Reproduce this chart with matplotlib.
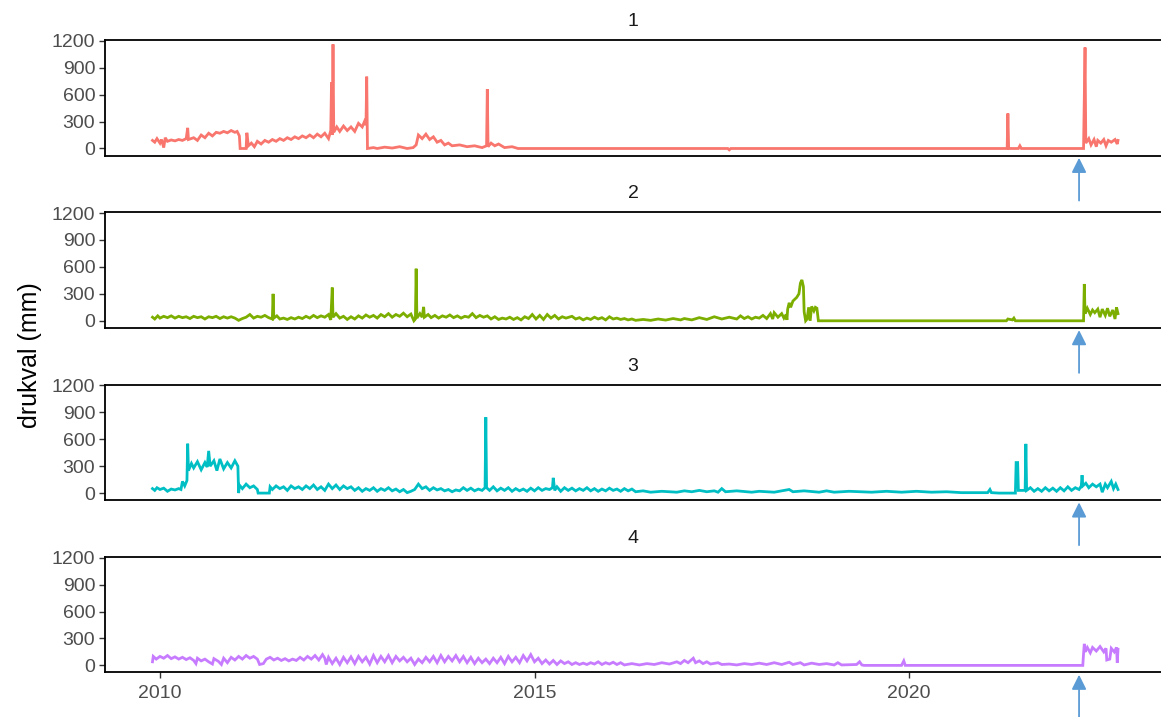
import matplotlib
matplotlib.use("Agg")
import matplotlib.pyplot as plt

plt.rcParams['font.family'] = ['Liberation Sans', 'DejaVu Sans']

# ---- data (decimal years, drukval in mm) ----

t1 = [2009.90, 2009.93, 2009.96, 2010.00, 2010.02, 2010.05, 2010.07, 2010.10, 2010.15, 2010.20,
      2010.25, 2010.30, 2010.35, 2010.37, 2010.38, 2010.45, 2010.50, 2010.55, 2010.60, 2010.65,
      2010.70, 2010.75, 2010.80, 2010.85, 2010.90, 2010.95, 2011.00, 2011.03, 2011.06, 2011.07,
      2011.15, 2011.16, 2011.18, 2011.22, 2011.26, 2011.30, 2011.35, 2011.40, 2011.45, 2011.50,
      2011.55, 2011.60, 2011.65, 2011.70, 2011.75, 2011.80, 2011.85, 2011.90, 2011.95, 2012.00,
      2012.05, 2012.10, 2012.15, 2012.20, 2012.25, 2012.28, 2012.29, 2012.30, 2012.31, 2012.32,
      2012.36, 2012.40, 2012.45, 2012.50, 2012.55, 2012.60, 2012.65, 2012.70, 2012.73, 2012.75,
      2012.76, 2012.77, 2012.85, 2012.90, 2013.00, 2013.10, 2013.20, 2013.30, 2013.38, 2013.42,
      2013.45, 2013.50, 2013.55, 2013.60, 2013.65, 2013.70, 2013.75, 2013.80, 2013.85, 2013.90,
      2014.00, 2014.10, 2014.20, 2014.30, 2014.36, 2014.37, 2014.38, 2014.42, 2014.47, 2014.52,
      2014.60, 2014.70, 2014.78, 2017.58, 2017.60, 2017.62, 2021.31, 2021.32, 2021.33, 2021.46,
      2021.48, 2021.50, 2022.33, 2022.35, 2022.36, 2022.40, 2022.43, 2022.47, 2022.50, 2022.52,
      2022.56, 2022.60, 2022.63, 2022.66, 2022.70, 2022.75, 2022.78, 2022.79]
v1 = [90, 70, 110, 60, 100, 10, 120, 80, 95, 85,
      100, 90, 110, 230, 100, 120, 90, 150, 120, 170,
      140, 180, 170, 190, 175, 200, 180, 190, 140, 0,
      0, 175, 30, 60, 20, 80, 50, 90, 70, 100,
      80, 110, 90, 120, 100, 130, 110, 140, 120, 150,
      120, 160, 130, 170, 110, 200, 735, 150, 1160, 180,
      240, 190, 250, 200, 240, 190, 280, 240, 300, 260,
      800, 0, 10, 0, 15, 5, 20, 0, 10, 40,
      150, 110, 160, 100, 130, 70, 90, 40, 60, 30,
      40, 20, 30, 10, 30, 660, 20, 60, 30, 50,
      10, 20, 0, 0, -15, 0, 0, 390, 0, 0,
      30, 0, 0, 1125, 60, 110, 40, 100, 20, 90,
      60, 100, 30, 90, 70, 100, 50, 90]

t2 = [2009.90, 2009.93, 2009.97, 2010.00, 2010.05, 2010.10, 2010.15, 2010.20, 2010.25, 2010.30,
      2010.35, 2010.40, 2010.45, 2010.50, 2010.55, 2010.60, 2010.65, 2010.70, 2010.75, 2010.80,
      2010.85, 2010.90, 2010.95, 2011.00, 2011.05, 2011.10, 2011.15, 2011.20, 2011.25, 2011.30,
      2011.35, 2011.40, 2011.45, 2011.50, 2011.51, 2011.52, 2011.56, 2011.60, 2011.65, 2011.70,
      2011.75, 2011.80, 2011.85, 2011.90, 2011.95, 2012.00, 2012.05, 2012.10, 2012.15, 2012.20,
      2012.25, 2012.28, 2012.30, 2012.31, 2012.35, 2012.40, 2012.45, 2012.50, 2012.55, 2012.60,
      2012.65, 2012.70, 2012.75, 2012.80, 2012.85, 2012.90, 2012.95, 2013.00, 2013.05, 2013.10,
      2013.15, 2013.20, 2013.25, 2013.30, 2013.35, 2013.39, 2013.41, 2013.42, 2013.43, 2013.47,
      2013.50, 2013.52, 2013.53, 2013.58, 2013.62, 2013.67, 2013.72, 2013.77, 2013.82, 2013.87,
      2013.92, 2013.97, 2014.02, 2014.07, 2014.12, 2014.17, 2014.22, 2014.27, 2014.32, 2014.37,
      2014.42, 2014.47, 2014.52, 2014.57, 2014.62, 2014.67, 2014.72, 2014.77, 2014.82, 2014.87,
      2014.92, 2014.97, 2015.02, 2015.07, 2015.12, 2015.17, 2015.22, 2015.27, 2015.32, 2015.37,
      2015.42, 2015.50, 2015.55, 2015.60, 2015.65, 2015.70, 2015.75, 2015.80, 2015.85, 2015.90,
      2015.95, 2016.00, 2016.05, 2016.10, 2016.15, 2016.20, 2016.25, 2016.30, 2016.35, 2016.45,
      2016.55, 2016.65, 2016.75, 2016.85, 2016.95, 2017.00, 2017.10, 2017.20, 2017.30, 2017.40,
      2017.50, 2017.60, 2017.70, 2017.75, 2017.80, 2017.85, 2017.90, 2017.95, 2018.00, 2018.05,
      2018.10, 2018.15, 2018.18, 2018.20, 2018.25, 2018.30, 2018.33, 2018.36, 2018.37, 2018.38,
      2018.40, 2018.42, 2018.45, 2018.50, 2018.53, 2018.55, 2018.57, 2018.59, 2018.60, 2018.62,
      2018.64, 2018.66, 2018.68, 2018.70, 2018.73, 2018.75, 2018.77, 2018.79, 2021.30, 2021.32,
      2021.38, 2021.40, 2021.42, 2022.33, 2022.34, 2022.35, 2022.38, 2022.42, 2022.45, 2022.48,
      2022.52, 2022.55, 2022.58, 2022.62, 2022.65, 2022.68, 2022.72, 2022.75, 2022.77, 2022.79]
v2 = [40, 20, 55, 30, 50, 35, 55, 30, 50, 35,
      45, 25, 50, 35, 45, 20, 45, 35, 50, 25,
      45, 30, 45, 30, 5, 25, 40, 70, 30, 50,
      40, 60, 35, 20, 300, 30, 55, 20, 30, 15,
      35, 20, 40, 25, 50, 30, 60, 35, 55, 40,
      70, 10, 370, 40, 80, 30, 50, 15, 45, 20,
      55, 30, 65, 40, 60, 30, 70, 45, 80, 40,
      70, 50, 85, 45, 75, 0, 20, 580, 30, 80,
      40, 155, 40, 70, 35, 60, 30, 55, 40, 65,
      35, 55, 30, 50, 40, 80, 35, 60, 40, 55,
      20, 45, 15, 30, 20, 40, 15, 35, 10, 45,
      25, 70, 20, 60, 15, 70, 30, 60, 20, 45,
      30, 50, 20, 35, 10, 30, 15, 40, 20, 35,
      10, 45, 20, 30, 15, 25, 10, 20, 5, 15,
      5, 20, 8, 25, 10, 25, 10, 35, 15, 45,
      20, 40, 20, 55, 25, 45, 20, 40, 30, 60,
      25, 80, 20, 90, 40, 80, 30, 70, 10, 130,
      200, 150, 220, 260, 300, 420, 455, 380, 100, 0,
      20, 150, 0, 160, 110, 150, 140, 0, 0, 20,
      10, 30, 0, 0, 410, 80, 140, 70, 120, 90,
      130, 40, 130, 60, 140, 50, 120, 20, 150, 80]

t3 = [2009.90, 2009.93, 2009.96, 2010.00, 2010.05, 2010.10, 2010.15, 2010.20, 2010.25, 2010.28,
      2010.30, 2010.33, 2010.36, 2010.37, 2010.38, 2010.42, 2010.45, 2010.50, 2010.55, 2010.60,
      2010.63, 2010.65, 2010.67, 2010.72, 2010.76, 2010.80, 2010.85, 2010.90, 2010.95, 2011.00,
      2011.04, 2011.05, 2011.06, 2011.10, 2011.15, 2011.20, 2011.25, 2011.30, 2011.31, 2011.46,
      2011.47, 2011.50, 2011.55, 2011.60, 2011.65, 2011.70, 2011.75, 2011.80, 2011.85, 2011.90,
      2011.95, 2012.00, 2012.05, 2012.10, 2012.15, 2012.20, 2012.25, 2012.30, 2012.35, 2012.40,
      2012.45, 2012.50, 2012.55, 2012.60, 2012.65, 2012.70, 2012.75, 2012.80, 2012.85, 2012.90,
      2012.95, 2013.00, 2013.05, 2013.10, 2013.15, 2013.20, 2013.25, 2013.30, 2013.35, 2013.40,
      2013.45, 2013.50, 2013.55, 2013.60, 2013.65, 2013.70, 2013.75, 2013.80, 2013.85, 2013.90,
      2013.95, 2014.00, 2014.05, 2014.10, 2014.15, 2014.20, 2014.25, 2014.30, 2014.34, 2014.35,
      2014.36, 2014.40, 2014.45, 2014.50, 2014.55, 2014.60, 2014.65, 2014.70, 2014.75, 2014.80,
      2014.85, 2014.90, 2014.95, 2015.00, 2015.05, 2015.10, 2015.15, 2015.20, 2015.24, 2015.25,
      2015.27, 2015.30, 2015.35, 2015.40, 2015.45, 2015.50, 2015.55, 2015.60, 2015.65, 2015.70,
      2015.75, 2015.80, 2015.85, 2015.90, 2015.95, 2016.00, 2016.05, 2016.10, 2016.15, 2016.20,
      2016.25, 2016.30, 2016.35, 2016.45, 2016.55, 2016.70, 2016.90, 2017.00, 2017.10, 2017.20,
      2017.30, 2017.40, 2017.45, 2017.50, 2017.55, 2017.70, 2017.90, 2018.00, 2018.20, 2018.40,
      2018.45, 2018.60, 2018.80, 2018.90, 2019.00, 2019.20, 2019.50, 2019.70, 2019.90, 2020.10,
      2020.30, 2020.50, 2020.70, 2020.90, 2021.05, 2021.08, 2021.10, 2021.20, 2021.42, 2021.43,
      2021.45, 2021.46, 2021.55, 2021.56, 2021.57, 2021.62, 2021.67, 2021.72, 2021.77, 2021.82,
      2021.87, 2021.92, 2021.97, 2022.02, 2022.07, 2022.12, 2022.17, 2022.22, 2022.27, 2022.30,
      2022.31, 2022.32, 2022.36, 2022.40, 2022.45, 2022.50, 2022.55, 2022.58, 2022.62, 2022.65,
      2022.70, 2022.73, 2022.76, 2022.79]
v3 = [50, 30, 60, 40, 55, 20, 45, 35, 50, 40,
      130, 80, 140, 550, 250, 330, 280, 350, 260, 340,
      290, 470, 300, 360, 250, 380, 270, 340, 280, 360,
      300, 0, 90, 50, 100, 60, 80, 40, 0, 0,
      70, 40, 80, 50, 70, 30, 80, 50, 70, 40,
      80, 50, 90, 40, 70, 30, 100, 50, 90, 40,
      80, 50, 70, 30, 60, 20, 50, 30, 60, 20,
      50, 30, 60, 25, 45, 15, 40, 5, 20, 40,
      100, 50, 70, 30, 60, 35, 50, 25, 40, 15,
      35, 25, 60, 30, 55, 25, 45, 30, 60, 845,
      60, 30, 70, 25, 55, 30, 60, 20, 50, 25,
      45, 20, 55, 25, 60, 30, 50, 40, 60, 170,
      30, 70, 20, 60, 30, 55, 25, 50, 30, 60,
      25, 50, 20, 45, 25, 55, 30, 45, 20, 50,
      25, 45, 15, 25, 10, 20, 10, 25, 15, 30,
      15, 25, 10, 50, 15, 25, 10, 20, 10, 40,
      15, 25, 10, 25, 10, 20, 10, 20, 10, 20,
      10, 15, 5, 5, 5, 40, 5, 0, 0, 340,
      340, 30, 30, 548, 30, 60, 20, 50, 20, 60,
      25, 55, 20, 60, 25, 70, 30, 60, 40, 80,
      200, 80, 110, 60, 100, 70, 100, 10, 100, 60,
      130, 50, 100, 40]

t4 = [2009.90, 2009.91, 2009.95, 2010.00, 2010.05, 2010.10, 2010.15, 2010.20, 2010.25, 2010.30,
      2010.35, 2010.40, 2010.45, 2010.48, 2010.50, 2010.55, 2010.60, 2010.65, 2010.70, 2010.72,
      2010.78, 2010.82, 2010.85, 2010.90, 2010.95, 2011.00, 2011.05, 2011.10, 2011.15, 2011.20,
      2011.25, 2011.30, 2011.33, 2011.38, 2011.42, 2011.47, 2011.52, 2011.57, 2011.62, 2011.67,
      2011.72, 2011.77, 2011.82, 2011.87, 2011.92, 2011.97, 2012.02, 2012.07, 2012.12, 2012.17,
      2012.20, 2012.22, 2012.25, 2012.30, 2012.35, 2012.40, 2012.45, 2012.50, 2012.55, 2012.60,
      2012.65, 2012.70, 2012.75, 2012.80, 2012.85, 2012.90, 2012.95, 2013.00, 2013.05, 2013.10,
      2013.15, 2013.20, 2013.25, 2013.30, 2013.35, 2013.40, 2013.45, 2013.50, 2013.55, 2013.60,
      2013.65, 2013.70, 2013.75, 2013.80, 2013.85, 2013.90, 2013.95, 2014.00, 2014.05, 2014.10,
      2014.15, 2014.20, 2014.25, 2014.30, 2014.35, 2014.40, 2014.45, 2014.50, 2014.55, 2014.60,
      2014.65, 2014.70, 2014.75, 2014.80, 2014.85, 2014.90, 2014.95, 2015.00, 2015.05, 2015.10,
      2015.15, 2015.20, 2015.25, 2015.30, 2015.35, 2015.40, 2015.45, 2015.50, 2015.55, 2015.60,
      2015.65, 2015.70, 2015.75, 2015.80, 2015.85, 2015.90, 2015.95, 2016.00, 2016.05, 2016.10,
      2016.15, 2016.20, 2016.30, 2016.40, 2016.50, 2016.60, 2016.70, 2016.80, 2016.90, 2016.95,
      2017.00, 2017.05, 2017.12, 2017.15, 2017.20, 2017.25, 2017.30, 2017.35, 2017.45, 2017.50,
      2017.60, 2017.70, 2017.80, 2017.90, 2018.00, 2018.10, 2018.20, 2018.30, 2018.40, 2018.45,
      2018.55, 2018.60, 2018.70, 2018.80, 2018.90, 2019.00, 2019.05, 2019.10, 2019.30, 2019.34,
      2019.37, 2019.40, 2019.90, 2019.93, 2019.95, 2022.32, 2022.33, 2022.34, 2022.35, 2022.38,
      2022.42, 2022.45, 2022.50, 2022.55, 2022.60, 2022.63, 2022.64, 2022.68, 2022.70, 2022.74,
      2022.77, 2022.78, 2022.79]
v4 = [40, 100, 70, 100, 80, 110, 75, 95, 70, 90,
      65, 85, 55, 20, 80, 50, 70, 40, 15, 75,
      45, 10, 80, 30, 90, 60, 100, 70, 110, 80,
      100, 70, 10, 20, 70, 90, 60, 80, 55, 75,
      50, 70, 55, 90, 60, 100, 70, 110, 60, 120,
      80, 10, 90, 20, 80, 10, 90, 30, 95, 20,
      100, 40, 90, 15, 110, 30, 100, 40, 110, 30,
      100, 50, 90, 40, 80, 10, 70, 30, 90, 40,
      100, 30, 110, 40, 100, 50, 110, 40, 100, 30,
      90, 20, 80, 30, 70, 20, 80, 30, 90, 20,
      100, 40, 90, 30, 110, 50, 120, 40, 80, 20,
      60, 15, 55, 10, 50, 20, 40, 10, 30, 10,
      25, 10, 30, 15, 40, 10, 30, 15, 35, 10,
      30, 5, 20, 5, 20, 10, 30, 15, 40, 20,
      55, 30, 80, 30, 50, 20, 40, 15, 30, 10,
      15, 5, 20, 10, 25, 10, 30, 10, 35, 10,
      30, 5, 25, 10, 20, 5, 30, 5, 10, 40,
      5, 0, 0, 50, 0, 0, 130, 240, 150, 200,
      140, 200, 160, 210, 150, 190, 60, 70, 190, 150,
      200, 30, 180]

series = [("1", t1, v1, "#F8766D"), ("2", t2, v2, "#7CAE00"),
          ("3", t3, v3, "#00BFC4"), ("4", t4, v4, "#C77CFF")]
yticks = [0, 300, 600, 900, 1200]
xticks = [2010, 2015, 2020]
arrow_year = 2022.27

# ---- figure ----
W, H = 1161, 717
fig = plt.figure(figsize=(W / 100, H / 100), dpi=100)

left_px = 105
top0 = 40
step = 172.3
ph = 115.5

for i, (name, t, v, col) in enumerate(series):
    top = top0 + i * step
    ax = fig.add_axes([left_px / W, 1 - (top + ph) / H, (W - left_px) / W, ph / H])
    ax.plot(t, v, color=col, lw=2.0, solid_joinstyle='miter')
    ax.set_xlim(2009.266, 2023.364)
    ax.set_ylim(-78, 1208)
    ax.set_yticks(yticks)
    ax.set_xticks(xticks)
    ax.tick_params(axis='both', labelsize=14, labelcolor='#4D4D4D', color='#333333',
                   length=4, width=1, pad=3)
    if i < 3:
        ax.tick_params(axis='x', bottom=False, labelbottom=False)
    else:
        ax.tick_params(axis='x', pad=5)
    for sp in ['left', 'bottom', 'top']:
        ax.spines[sp].set_linewidth(1.3)
        ax.spines[sp].set_color('black')
    ax.spines['right'].set_visible(False)
    ax.set_title(name, fontsize=14, color='#1A1A1A', pad=10)

    # blue arrow under each panel
    ax.annotate('', xy=(arrow_year, -0.02), xycoords=ax.get_xaxis_transform(),
                xytext=(arrow_year, -0.39), textcoords=ax.get_xaxis_transform(),
                arrowprops=dict(arrowstyle='-|>', color='#5B9BD5', lw=1.3,
                                mutation_scale=22, shrinkA=0, shrinkB=0),
                annotation_clip=False)

fig.text(30 / W, 1 - 355 / H, 'drukval (mm)', rotation=90, fontsize=18,
         ha='center', va='center')

fig.savefig('out.png', dpi=100)
